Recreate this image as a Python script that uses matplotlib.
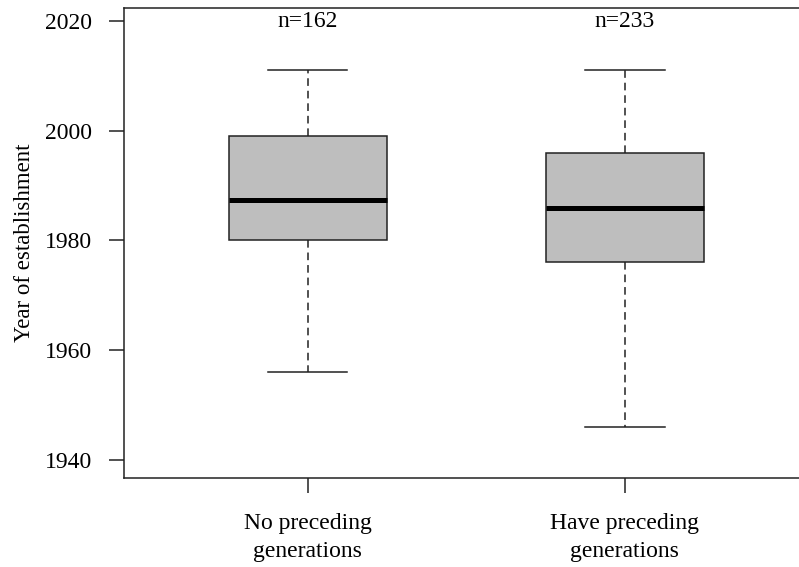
import matplotlib
matplotlib.use("Agg")
import matplotlib.pyplot as plt

# data
groups = ["No preceding\ngenerations", "Have preceding\ngenerations"]
counts = [162, 233]
whislo = [1956, 1946]
q1 = [1980, 1976]
medians = [1987.3, 1985.9]
q3 = [1999, 1996]
whishi = [2011, 2011]
yticks = [1940, 1960, 1980, 2000, 2020]

plt.rcParams['font.family'] = ['Liberation Serif', 'DejaVu Serif']

fig = plt.figure(figsize=(7.99, 5.67), dpi=100)
ax = fig.add_axes([0.1552, 0.157, 0.857, 0.829])  # right side runs off the figure, like the original crop

stats = []
for i in range(len(groups)):
    stats.append({'whislo': whislo[i], 'q1': q1[i], 'med': medians[i],
                  'q3': q3[i], 'whishi': whishi[i], 'fliers': []})

pos = list(range(1, len(groups) + 1))
ax.bxp(stats, positions=pos, widths=0.5, patch_artist=True,
       boxprops=dict(facecolor='#bebebe', edgecolor='#222222', linewidth=1.1),
       medianprops=dict(color='black', linewidth=3.6, solid_capstyle='butt'),
       whiskerprops=dict(color='#222222', linewidth=1.1, linestyle=(0, (5, 3.2))),
       capprops=dict(color='#222222', linewidth=1.1))

# n labels above each box
for p, n in zip(pos, counts):
    ax.text(p, 2020, "n=%d" % n, ha='center', va='center', fontsize=17)

ax.set_xlim(0.42, 2.58)
ax.set_ylim(1936.7, 2022.4)
ax.set_yticks(yticks)
ax.set_xticks(pos)
ax.set_xticklabels(groups, fontsize=17, linespacing=1.45)
ax.tick_params(axis='y', labelsize=17, length=11, width=1.1, pad=12, color='#222222')
ax.tick_params(axis='x', labelsize=17, length=11, width=1.1, pad=14, color='#222222')
ax.set_ylabel("Year of establishment", fontsize=16.5, labelpad=7)

for s in ax.spines.values():
    s.set_linewidth(1.1)
    s.set_color('#222222')

fig.savefig("out.png", dpi=100)
